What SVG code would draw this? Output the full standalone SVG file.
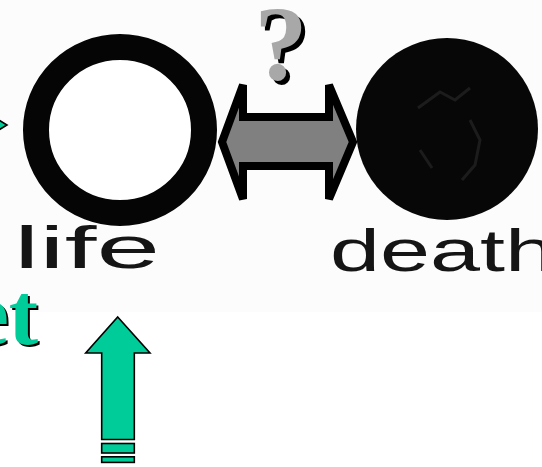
<svg xmlns="http://www.w3.org/2000/svg" width="542" height="467" viewBox="0 0 542 467">
  <defs>
    <style>
      .hand { font-family: "Liberation Sans", "DejaVu Sans", sans-serif; font-size: 60px; fill: #151515; }
      .teal { fill: #00CC99; stroke: #000; stroke-width: 1.6; stroke-linejoin: miter; }
      .serif { font-family: "Liberation Serif", "Times New Roman", serif; }
    </style>
  </defs>
  <rect x="0" y="0" width="542" height="467" fill="#ffffff"/>
  <rect x="0" y="0" width="542" height="312" fill="#fcfcfc"/>

  <g id="life">
    <ellipse cx="120" cy="130" rx="84" ry="83" fill="#ffffff" stroke="#050505" stroke-width="26"/>
    <text class="hand" x="14" y="268" textLength="146" lengthAdjust="spacingAndGlyphs">life</text>
  </g>

  <g id="death">
    <circle cx="447" cy="129" r="91" fill="#070707"/>
    <g fill="none" stroke="#1c1c1c" stroke-width="3">
      <path d="M418 108 L440 92 L455 100 L470 88"/>
      <path d="M470 120 L480 140 L475 165 L462 180"/>
      <path d="M420 150 L432 168"/>
    </g>
    <text class="hand" x="330" y="271" textLength="225" lengthAdjust="spacingAndGlyphs">death</text>
  </g>

  <g id="question">
    <text class="serif" x="285" y="84" font-size="106" font-weight="bold" text-anchor="middle" fill="#000">?</text>
    <text class="serif" x="281" y="80" font-size="106" font-weight="bold" text-anchor="middle" fill="#a8a8a8">?</text>
  </g>

  <g id="et-label">
    <text class="serif" x="40" y="346" font-size="88" font-weight="bold" text-anchor="end" fill="#000">et</text>
    <text class="serif" x="38" y="344" font-size="88" font-weight="bold" text-anchor="end" fill="#00CC99">et</text>
  </g>

  <g id="connectors">
    <polygon points="222,142 243,85 243,117 329,117 329,85 353,142 329,199 329,166 243,166 243,199" fill="#808080" stroke="#000" stroke-width="8" stroke-linejoin="miter"/>
    <polygon class="teal" points="-6,117 7,125 -6,133"/>
    <g id="up-arrow">
      <polygon class="teal" points="117.7,317 150,353 134.3,353 134.3,439.5 101.7,439.5 101.7,353 85.7,353"/>
      <rect class="teal" x="101.7" y="443.5" width="32.6" height="9.5"/>
      <rect class="teal" x="101.7" y="456.8" width="32.6" height="5.6"/>
    </g>
  </g>
</svg>
